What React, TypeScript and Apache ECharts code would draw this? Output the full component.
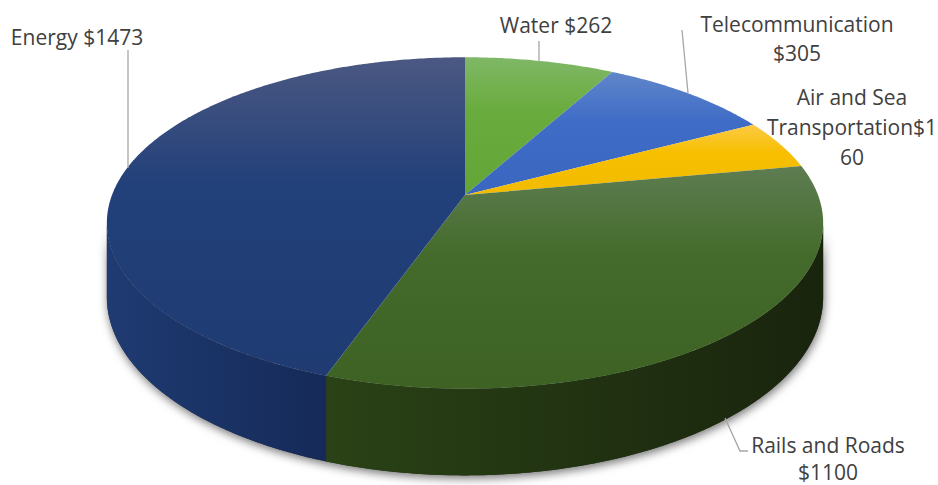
import React, { useEffect, useRef } from "react";
import * as echarts from "echarts";

// ---- data ----
const categories = ["Water", "Telecommunication", "Air and Sea Transportation", "Rails and Roads", "Energy"];
const values = [262, 305, 160, 1100, 1473];

// ---- styles / layout (not data) ----
const TOP_COLORS = [
  ["#80b866", "#69ab3c", "#64a537"],
  ["#6086ca", "#3f6cc6", "#3a66c0"],
  ["#fdca45", "#f7bf00", "#f3bb00"],
  ["#5e7d52", "#446b2b", "#3d6224"],
  ["#4b5882", "#22407a", "#1f3b72"],
];
const SIDE_COLORS = [
  ["#4f8a2a", "#3f7020"],
  ["#2f54a0", "#24448a"],
  ["#c99a00", "#a88000"],
  ["#2a4216", "#19240d"],
  ["#1f3b72", "#152a58"],
];
const LABEL_SEP = [" ", "\n", "", "\n", " "];
const LABEL_LAYOUT = [
  { x: 556, y: 25, wrap: null as null | number[], lh: 29, line: [[539, 41], [539, 62]] },
  { x: 797, y: 38, wrap: null, lh: 29, line: [[682, 30], [688, 93]] },
  { x: 852, y: 127, wrap: [11, 16], lh: 30, line: null },
  { x: 828, y: 458, wrap: null, lh: 27, line: [[725, 418], [740, 451], [748, 451]] },
  { x: 77, y: 37, wrap: null, lh: 29, line: [[128, 50], [128, 168]] },
];

const CX = 465, CY = 195, R = 353, RY = 161, P = 0.169, DEPTH = 72;

function proj(theta: number, dz: number): number[] {
  const u = Math.sin(theta), v = -Math.cos(theta);
  const s = 1 / (1 - P * v);
  return [CX + R * u * s, CY + RY * v * s + dz * s];
}
function arc(a0: number, a1: number, dz: number): number[][] {
  const n = Math.max(2, Math.ceil(Math.abs(a1 - a0) / 0.01));
  const pts: number[][] = [];
  for (let i = 0; i <= n; i++) pts.push(proj(a0 + ((a1 - a0) * i) / n, dz));
  return pts;
}
function wrapText(s: string, wrap: number[] | null): string {
  if (!wrap) return s;
  const out: string[] = [];
  let pos = 0;
  for (const w of wrap) {
    out.push(s.slice(pos, pos + w));
    pos += w;
    if (s[pos] === " ") pos++;
  }
  out.push(s.slice(pos));
  return out.join("\n");
}

export default function App() {
  const ref = useRef<HTMLDivElement>(null);
  useEffect(() => {
    document.body.style.margin = "0";
    const chart = echarts.init(ref.current!, null, { renderer: "svg" });
    const total = values.reduce((a, b) => a + b, 0);
    const starts: number[] = [];
    let acc = 0;
    for (const v of values) {
      starts.push((acc / total) * Math.PI * 2);
      acc += v;
    }
    const thR = Math.acos(-P);
    const thL = Math.PI * 2 - thR;

    const renderItem = (params: any, api: any) => {
      const i = params.dataIndex;
      const val = api.value(0);
      const a0 = starts[i];
      const a1 = a0 + (val / total) * Math.PI * 2;
      const children: any[] = [];
      if (i === 0) {
        const top = arc(thR, thL, 0);
        const bot = arc(thL, thR, DEPTH);
        children.push({
          type: "polygon",
          shape: { points: top.concat(bot) },
          style: {
            fill: "#333",
            shadowBlur: 10,
            shadowColor: "rgba(0,0,0,0.55)",
            shadowOffsetY: 3,
            shadowOffsetX: 1,
          },
        });
      }
      const s0 = Math.max(a0, thR), s1 = Math.min(a1, thL);
      if (s1 > s0) {
        const top = arc(s0, s1, 0);
        const bot = arc(s1, s0, DEPTH);
        children.push({
          type: "polygon",
          shape: { points: top.concat(bot) },
          style: {
            fill: new echarts.graphic.LinearGradient(0, 0, 1, 0, [
              { offset: 0, color: SIDE_COLORS[i][0] },
              { offset: 1, color: SIDE_COLORS[i][1] },
            ]),
          },
        });
      }
      const topPts = [[CX, CY]].concat(arc(a0, a1, 0));
      children.push({
        type: "polygon",
        shape: { points: topPts },
        style: {
          fill: new echarts.graphic.LinearGradient(0, 0, 0, 1, [
            { offset: 0, color: TOP_COLORS[i][0] },
            { offset: 0.4, color: TOP_COLORS[i][1] },
            { offset: 1, color: TOP_COLORS[i][2] },
          ]),
        },
      });
      const lay = LABEL_LAYOUT[i];
      if (lay.line) {
        children.push({
          type: "polyline",
          shape: { points: lay.line },
          style: { stroke: "#a6a6a6", lineWidth: 1.3, fill: null },
        });
      }
      const txt = wrapText(`${categories[i]}${LABEL_SEP[i]}$${val}`, lay.wrap);
      children.push({
        type: "text",
        x: lay.x,
        y: lay.y,
        style: {
          text: txt,
          fill: "#404040",
          fontSize: 21,
          fontFamily: "Open Sans",
          align: "center",
          verticalAlign: "middle",
          lineHeight: lay.lh,
        },
      });
      return { type: "group", children };
    };

    chart.setOption({
      animation: false,
      backgroundColor: "#ffffff",
      series: [
        {
          type: "custom",
          coordinateSystem: "none",
          silent: true,
          renderItem,
          data: values.map((v) => [v]),
        },
      ],
    });
    return () => chart.dispose();
  }, []);
  return <div ref={ref} style={{ width: 938, height: 485 }} />;
}
